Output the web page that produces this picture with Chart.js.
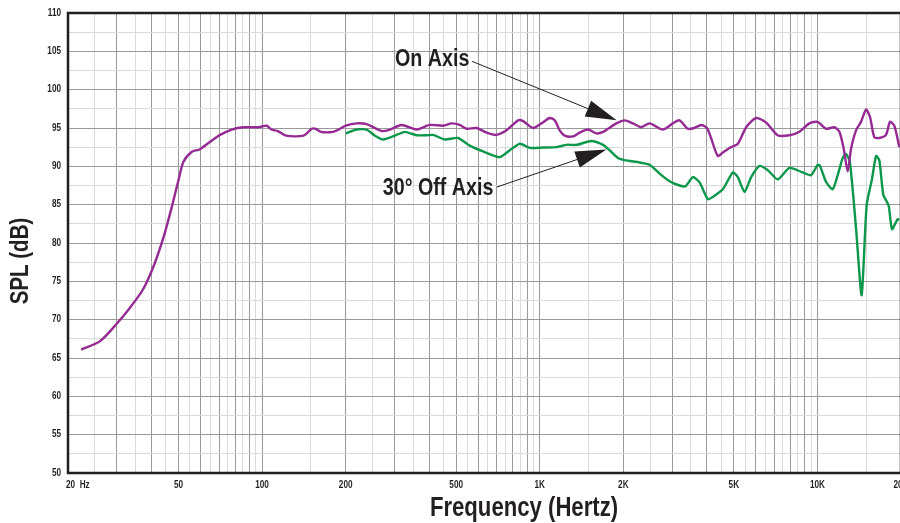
<!DOCTYPE html>
<html>
<head>
<meta charset="utf-8">
<script src="https://cdn.jsdelivr.net/npm/chart.js@4.4.1/dist/chart.umd.min.js"></script>
<style>
    html, body { margin: 0; padding: 0; background: #ffffff; overflow: hidden; }
    #wrap { width: 903px; height: 523px; }
</style>
</head>
<body>
<div id="wrap"><canvas id="splChart" width="903" height="523"></canvas></div>
<script>
// Frequency response: on axis vs 30 degrees off axis
const onAxisFreq = [22.3, 26.1, 30, 33.5, 37.2, 40.6, 44.2, 47.3, 50, 52.1, 55.9, 59.5, 65, 70.6, 77.8, 85.6,
    97, 104, 108, 114, 122, 141, 151, 156, 163, 180, 191, 200, 219, 238, 270, 289, 318, 360, 402, 449, 481,
    515, 545, 592, 643, 698, 759, 836, 871, 946, 1014, 1086, 1132, 1180, 1230, 1318, 1393, 1492, 1600, 1690,
    1888, 2022, 2165, 2321, 2487, 2776, 3016, 3188, 3416, 3600, 3817, 4000, 4147, 4378, 4564, 4825, 5169,
    5540, 6018, 6538, 7196, 7930, 8614, 9358, 10020, 10749, 11513, 12000, 12436, 12854, 13218, 13776,
    14360, 14968, 15472, 16034, 16712, 17660, 18256, 18920, 19720];
const onAxisSpl = [66.1, 67.2, 69.5, 71.6, 73.9, 76.9, 80.8, 84.7, 88.2, 90.6, 91.9, 92.2, 93.2, 94.1, 94.8, 95.1,
    95.1, 95.3, 94.8, 94.6, 94.0, 94.0, 94.9, 94.9, 94.5, 94.5, 94.9, 95.3, 95.6, 95.5, 94.6, 94.8, 95.4, 94.8, 95.4, 95.3, 95.6,
    95.4, 94.9, 95.0, 94.4, 94.1, 94.7, 96.0, 95.9, 95.0, 95.6, 96.3, 96.0, 94.7, 94.0, 93.9, 94.4, 94.8, 94.3, 94.5,
    95.6, 96.0, 95.6, 95.1, 95.6, 94.8, 95.6, 96.0, 94.9, 95.0, 95.4, 95.0, 93.6, 91.35, 91.8, 92.4, 92.95,
    95.1, 96.3, 95.7, 94.05, 94.05, 94.5, 95.6, 95.8, 94.9, 95.1, 94.5, 92.3, 89.35, 92.3, 94.7,
    95.8, 97.4, 96.4, 93.8, 93.7, 94.1, 95.8, 95.3, 92.5];

const offAxisFreq = [200, 219, 238, 255, 273, 305, 327, 360, 391, 413, 455, 508, 560, 625, 718, 780, 848, 921,
    1028, 1148, 1248, 1356, 1534, 1690, 1786, 1912, 2022, 2290, 2487, 2702, 2934, 3188, 3350, 3560, 3764,
    4032, 4200, 4564, 4958, 5169, 5464, 5774, 6186, 6626, 7196, 7930, 8852, 9490, 10020, 10200, 10749,
    11350, 11832, 12332, 12684, 13090, 13776, 14432, 15040, 15734, 16264, 16712, 17272, 18048, 18560, 19446, 19720];
const offAxisSpl = [94.3, 94.8, 94.8, 94.0, 93.5, 94.1, 94.5, 94.05, 94.05, 94.1, 93.5, 93.7, 92.7, 91.95, 91.2, 92.1, 92.95, 92.4,
    92.45, 92.5, 92.8, 92.8, 93.3, 92.8, 92.1, 91.1, 90.8, 90.5, 90.2, 89.05, 88.05, 87.5, 87.4, 88.6, 87.9,
    85.7, 86.0, 87.0, 89.2, 88.6, 86.65, 88.6, 90.05, 89.5, 88.3, 89.8, 89.2, 88.85, 90.2, 90.1, 87.95,
    87.0, 88.85, 91.1, 91.6, 90.6, 81.9, 73.2, 84.9, 88.4, 91.35, 90.8, 86.3, 84.9, 81.8, 83.1, 83.0];

// grid: whole multiples are dark lines, the halves are light
const xGridValues = [20, 25, 30, 35, 40, 45, 50, 55, 60, 65, 70, 75, 80, 85, 90, 95, 100,
    150, 200, 250, 300, 350, 400, 450, 500, 550, 600, 650, 700, 750, 800, 850, 900, 950, 1000,
    1500, 2000, 2500, 3000, 3500, 4000, 4500, 5000, 5500, 6000, 6500, 7000, 7500, 8000, 8500, 9000, 9500, 10000,
    15000, 20000];
const xTickValues = [20, 50, 100, 200, 500, 1000, 2000, 5000, 10000, 20000];
const xTickLabels = ['20  Hz', '50', '100', '200', '500', '1K', '2K', '5K', '10K', '20K'];
const yTickValues = [50, 55, 60, 65, 70, 75, 80, 85, 90, 95, 100, 105, 110];
const yMin = 50, yMax = 110;

const FONT = "'Liberation Sans', Arial, sans-serif";
const NARROW = 0.82;   // squeeze Liberation Sans to look like a condensed face
const INK = '#231f20';

function isMajorX(v) {
    const p = Math.pow(10, Math.floor(Math.log10(v) + 1e-9));
    return Math.abs(v / p - Math.round(v / p)) < 1e-6;
}

// draw condensed text, align = left | center | right
function narrowText(ctx, text, x, y, align) {
    const w = ctx.measureText(text).width * NARROW;
    let left = x;
    if (align === 'center') left = x - w / 2;
    else if (align === 'right') left = x - w;
    ctx.save();
    ctx.translate(left, y);
    ctx.scale(NARROW, 1);
    ctx.textAlign = 'left';
    ctx.fillText(text, 0, 0);
    ctx.restore();
}

const annotations = [
    { text: 'On Axis', x: 301, y: 103.9, from: [570, 103.7], to: [1892, 96.0] },
    { text: '30\u00B0 Off Axis', x: 272, y: 87.1, from: [701, 87.3], to: [1738, 92.2] }
];

const framePlugin = {
    id: 'frame',
    beforeDatasetsDraw(chart) {
        const { ctx, chartArea: a } = chart;
        ctx.save();
        ctx.strokeStyle = INK;
        ctx.lineWidth = 2.5;
        ctx.strokeRect(a.left, a.top, a.right - a.left, a.bottom - a.top);
        ctx.restore();
    },
    afterDraw(chart) {
        const { ctx, chartArea: a } = chart;
        const xs = chart.scales.x, ys = chart.scales.y;
        ctx.save();
        ctx.fillStyle = INK;
        ctx.textBaseline = 'middle';

        // tick labels
        ctx.font = 'bold 10px ' + FONT;
        xTickValues.forEach((v, i) => {
            const px = xs.getPixelForValue(v);
            if (i === 0) narrowText(ctx, xTickLabels[i], px - 2, a.bottom + 12, 'left');
            else narrowText(ctx, xTickLabels[i], px, a.bottom + 12, 'center');
        });
        yTickValues.forEach(v => {
            narrowText(ctx, String(v), a.left - 7, ys.getPixelForValue(v), 'right');
        });

        // axis titles
        ctx.textBaseline = 'alphabetic';
        ctx.font = 'bold 27px ' + FONT;
        narrowText(ctx, 'Frequency (Hertz)', 524, 516, 'center');
        ctx.save();
        ctx.translate(28, 261);
        ctx.rotate(-Math.PI / 2);
        ctx.font = 'bold 25px ' + FONT;
        narrowText(ctx, 'SPL (dB)', 0, 0, 'center');
        ctx.restore();

        // callouts with arrows
        ctx.font = 'bold 24px ' + FONT;
        ctx.textBaseline = 'middle';
        ctx.strokeStyle = INK;
        ctx.lineWidth = 1;
        annotations.forEach(an => {
            narrowText(ctx, an.text, xs.getPixelForValue(an.x), ys.getPixelForValue(an.y), 'left');
            const x0 = xs.getPixelForValue(an.from[0]), y0 = ys.getPixelForValue(an.from[1]);
            const x1 = xs.getPixelForValue(an.to[0]), y1 = ys.getPixelForValue(an.to[1]);
            const ang = Math.atan2(y1 - y0, x1 - x0);
            const headLen = 31, headW = 8.5;
            const bx = x1 - headLen * Math.cos(ang), by = y1 - headLen * Math.sin(ang);
            ctx.beginPath();
            ctx.moveTo(x0, y0);
            ctx.lineTo(bx, by);
            ctx.stroke();
            ctx.beginPath();
            ctx.moveTo(x1, y1);
            ctx.lineTo(bx + headW * Math.sin(ang), by - headW * Math.cos(ang));
            ctx.lineTo(bx - headW * Math.sin(ang), by + headW * Math.cos(ang));
            ctx.closePath();
            ctx.fill();
        });
        ctx.restore();
    }
};

new Chart(document.getElementById('splChart'), {
    type: 'line',
    data: {
        datasets: [
            {
                label: 'On Axis',
                data: onAxisFreq.map((f, i) => ({ x: f, y: onAxisSpl[i] })),
                borderColor: '#952a93',
                borderWidth: 2.4,
                pointRadius: 0,
                tension: 0.25
            },
            {
                label: '30\u00B0 Off Axis',
                data: offAxisFreq.map((f, i) => ({ x: f, y: offAxisSpl[i] })),
                borderColor: '#0d974a',
                borderWidth: 2.4,
                pointRadius: 0,
                tension: 0.2
            }
        ]
    },
    options: {
        responsive: false,
        animation: false,
        devicePixelRatio: 1,
        layout: { padding: { top: 13, right: 2, left: 0, bottom: 0 } },
        plugins: {
            legend: { display: false },
            tooltip: { enabled: false }
        },
        scales: {
            x: {
                type: 'logarithmic',
                min: 20,
                max: 20000,
                border: { display: false },
                afterBuildTicks: scale => { scale.ticks = xGridValues.map(v => ({ value: v })); },
                afterFit: scale => { scale.height = 50; },
                ticks: { display: false },
                grid: {
                    drawTicks: false,
                    lineWidth: 1,
                    color: c => (c.tick && isMajorX(c.tick.value)) ? '#9a9a9a' : '#dadada'
                }
            },
            y: {
                min: yMin,
                max: yMax,
                border: { display: false },
                afterBuildTicks: scale => {
                    const t = [];
                    for (let v = yMin; v <= yMax; v += 2.5) t.push({ value: v });
                    scale.ticks = t;
                },
                afterFit: scale => { scale.width = 68; },
                ticks: { display: false },
                grid: {
                    drawTicks: false,
                    lineWidth: 1,
                    color: c => (c.tick && c.tick.value % 5 === 0) ? '#9a9a9a' : '#dadada'
                }
            }
        }
    },
    plugins: [framePlugin]
});
</script>
</body>
</html>
